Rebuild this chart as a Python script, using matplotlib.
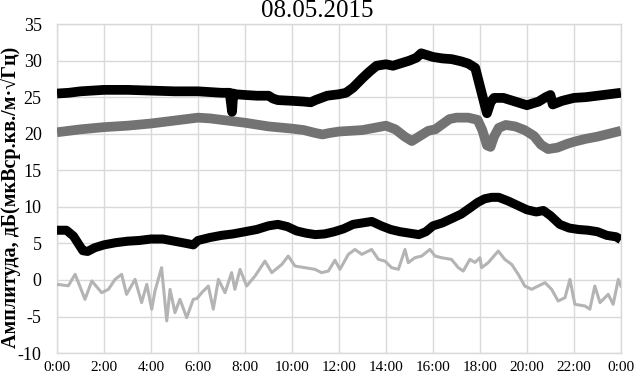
import matplotlib
matplotlib.use("Agg")
import matplotlib.pyplot as plt

plt.rcParams['font.family'] = ['Liberation Serif', 'DejaVu Serif']

title = "08.05.2015"
ylabel = "Амплитуда, дБ(мкВср.кв./м·√Гц)"
xtick_pos = [0, 2, 4, 6, 8, 10, 12, 14, 16, 18, 20, 22, 24]
xtick_labels = ["0:00", "2:00", "4:00", "6:00", "8:00", "10:00", "12:00",
                "14:00", "16:00", "18:00", "20:00", "22:00", "0:00"]
ytick_pos = [-10, -5, 0, 5, 10, 15, 20, 25, 30, 35]

# Series 1: black (stars), top
t1 = [0, 0.5, 1, 2, 3, 4, 5, 6, 6.5, 7, 7.35, 7.45, 7.5, 7.6, 8, 8.5, 9, 9.2,
      9.4, 10, 10.5, 10.8, 11, 11.5, 12, 12.3, 12.6, 13, 13.3, 13.6, 14, 14.3,
      14.6, 15, 15.3, 15.5, 15.7, 16, 16.4, 16.8, 17.2, 17.5, 17.8, 18.0, 18.2,
      18.3, 18.45, 18.6, 19, 19.5, 20, 20.5, 20.8, 21.0, 21.1, 21.5, 22, 22.5,
      23, 23.5, 24]
v1 = [25.5, 25.6, 25.8, 26.0, 26.0, 25.9, 25.8, 25.8, 25.7, 25.6, 25.6, 23.0,
      25.5, 25.4, 25.3, 25.2, 25.2, 24.8, 24.6, 24.5, 24.4, 24.3, 24.6, 25.2,
      25.4, 25.6, 26.3, 27.6, 28.5, 29.3, 29.5, 29.3, 29.6, 30.0, 30.4, 31.0,
      30.8, 30.5, 30.3, 30.2, 29.9, 29.6, 29.0, 26.5, 24.0, 22.8, 24.3, 24.9,
      24.9, 24.4, 23.9, 24.4, 25.0, 25.3, 24.0, 24.5, 24.9, 25.0, 25.2, 25.4,
      25.6]

# Series 2: gray (squares)
t2 = [0, 1, 2, 3, 4, 4.5, 5, 6, 6.5, 7, 7.5, 8, 9, 10, 10.5, 11, 11.3, 11.6,
      12, 12.5, 13, 13.5, 14, 14.4, 14.8, 15.1, 15.4, 15.8, 16.1, 16.4, 16.7,
      17, 17.5, 17.9, 18.1, 18.3, 18.45, 18.6, 18.8, 19.1, 19.5, 19.9, 20.3,
      20.6, 20.9, 21.3, 21.7, 22, 22.5, 23, 23.5, 24]
v2 = [20.2, 20.6, 20.9, 21.1, 21.4, 21.6, 21.8, 22.2, 22.1, 21.9, 21.7, 21.5,
      21.0, 20.7, 20.5, 20.1, 19.9, 20.1, 20.3, 20.4, 20.5, 20.8, 21.1, 20.6,
      19.6, 19.0, 19.6, 20.4, 20.6, 21.3, 22.0, 22.2, 22.2, 21.9, 20.5, 18.4,
      18.2, 19.6, 20.8, 21.2, 21.0, 20.5, 19.7, 18.5, 17.9, 18.1, 18.6, 18.9,
      19.3, 19.6, 20.0, 20.4]

# Series 3: black (triangles)
t3 = [0, 0.4, 0.7, 0.9, 1.1, 1.3, 1.6, 2.0, 2.5, 3.0, 3.5, 4.0, 4.5, 5.0, 5.5,
      5.8, 6.0, 6.5, 7.0, 7.5, 8.0, 8.5, 9.0, 9.4, 9.8, 10.2, 10.6, 11.0, 11.4,
      11.8, 12.2, 12.6, 13.0, 13.4, 13.8, 14.2, 14.6, 15.0, 15.4, 15.7, 16.0,
      16.4, 16.8, 17.2, 17.6, 17.9, 18.2, 18.5, 18.8, 19.2, 19.6, 20.0, 20.4,
      20.7, 21.0, 21.4, 21.8, 22.2, 22.6, 23.0, 23.4, 23.8, 24]
v3 = [6.8, 6.8, 6.0, 5.0, 4.0, 3.9, 4.4, 4.8, 5.1, 5.3, 5.4, 5.6, 5.6, 5.3,
      5.0, 4.8, 5.4, 5.8, 6.1, 6.3, 6.6, 6.9, 7.4, 7.6, 7.3, 6.7, 6.4, 6.2,
      6.3, 6.6, 7.0, 7.6, 7.8, 8.0, 7.4, 6.9, 6.6, 6.4, 6.2, 6.6, 7.4, 7.8,
      8.4, 9.0, 9.9, 10.6, 11.1, 11.3, 11.3, 10.8, 10.2, 9.6, 9.3, 9.5, 8.8,
      7.6, 7.1, 6.9, 6.8, 6.6, 6.1, 5.9, 5.5]

# Series 4: light gray noisy line
t4 = [0.0, 0.48, 0.77, 1.19, 1.48, 1.90, 2.19, 2.47, 2.75, 2.96, 3.32, 3.60,
      3.82, 4.03, 4.17, 4.45, 4.67, 4.81, 5.02, 5.23, 5.52, 5.80, 5.95, 6.16,
      6.44, 6.65, 6.87, 7.15, 7.43, 7.57, 7.79, 8.07, 8.43, 8.85, 9.14, 9.57,
      9.84, 10.13, 10.55, 10.98, 11.26, 11.55, 11.83, 12.04, 12.40, 12.68,
      12.97, 13.39, 13.68, 13.96, 14.24, 14.53, 14.81, 14.95, 15.23, 15.52,
      15.87, 16.09, 16.37, 16.79, 17.08, 17.29, 17.57, 17.79, 18.0, 18.07,
      18.35, 18.78, 19.06, 19.35, 19.63, 19.91, 20.2, 20.48, 20.77, 21.05,
      21.33, 21.62, 21.83, 22.04, 22.47, 22.68, 22.89, 23.11, 23.46, 23.67,
      23.89, 24.0]
v4 = [-0.6, -0.8, 0.77, -2.65, -0.14, -1.74, -1.28, 0.08, 0.77, -1.97, 0.08,
      -3.1, -0.6, -4.0, -1.5, 1.68, -5.6, -1.28, -4.47, -2.65, -5.15, -2.65,
      -2.55, -1.74, -0.83, -4.0, 0.08, -1.74, 1.0, -1.28, 1.45, -0.83, 0.55,
      2.58, 1.0, 2.13, 3.27, 1.9, 1.68, 1.45, 1.0, 1.22, 2.7, 1.45, 3.5, 4.17,
      3.5, 4.17, 2.81, 2.58, 1.68, 1.45, 4.17, 2.36, 3.04, 3.27, 4.17, 3.27,
      3.04, 2.81, 1.68, 1.22, 2.81, 2.4, 3.04, 1.68, 2.36, 3.95, 2.81, 2.13,
      0.77, -0.83, -1.28, -0.83, -0.37, -1.28, -2.88, -2.42, 0.08, -3.33,
      -3.56, -4.0, -0.83, -3.1, -1.97, -3.33, 0.08, -0.83]

fig = plt.figure(figsize=(6.35, 3.76), dpi=100)
ax = fig.add_axes([0.0898, 0.061, 0.888, 0.875])

ax.plot(t4, v4, color="#b4b4b4", lw=2.2, solid_joinstyle="round", zorder=3)
ax.plot(t3, v3, color="#000000", lw=6.5, solid_joinstyle="round",
        solid_capstyle="butt", zorder=4)
ax.plot(t2, v2, color="#737373", lw=7.0, solid_joinstyle="round",
        solid_capstyle="butt", zorder=5)
ax.plot(t1, v1, color="#000000", lw=7.0, solid_joinstyle="round",
        solid_capstyle="butt", zorder=6)

ax.set_xlim(0, 24)
ax.set_ylim(-10, 35)
ax.set_xticks(xtick_pos)
ax.set_xticklabels(xtick_labels, fontsize=11)
ax.set_yticks(ytick_pos)
ax.set_yticklabels([str(v) for v in ytick_pos], fontsize=13)
ax.tick_params(axis="x", length=0, pad=6)
ax.tick_params(axis="y", length=0, pad=11)
ax.grid(True, color="#d9d9d9", lw=1.0)
ax.set_axisbelow(True)
for s in ax.spines.values():
    s.set_color("#d9d9d9")
    s.set_linewidth(1.0)

fig.text(0.5, 1 - 11 / 376, title, fontsize=18, ha="center", va="center")
fig.text(0.016, 0.476, ylabel, rotation=90, fontsize=14.5, fontweight="bold",
         ha="center", va="center")

fig.savefig("out.png", dpi=100)
